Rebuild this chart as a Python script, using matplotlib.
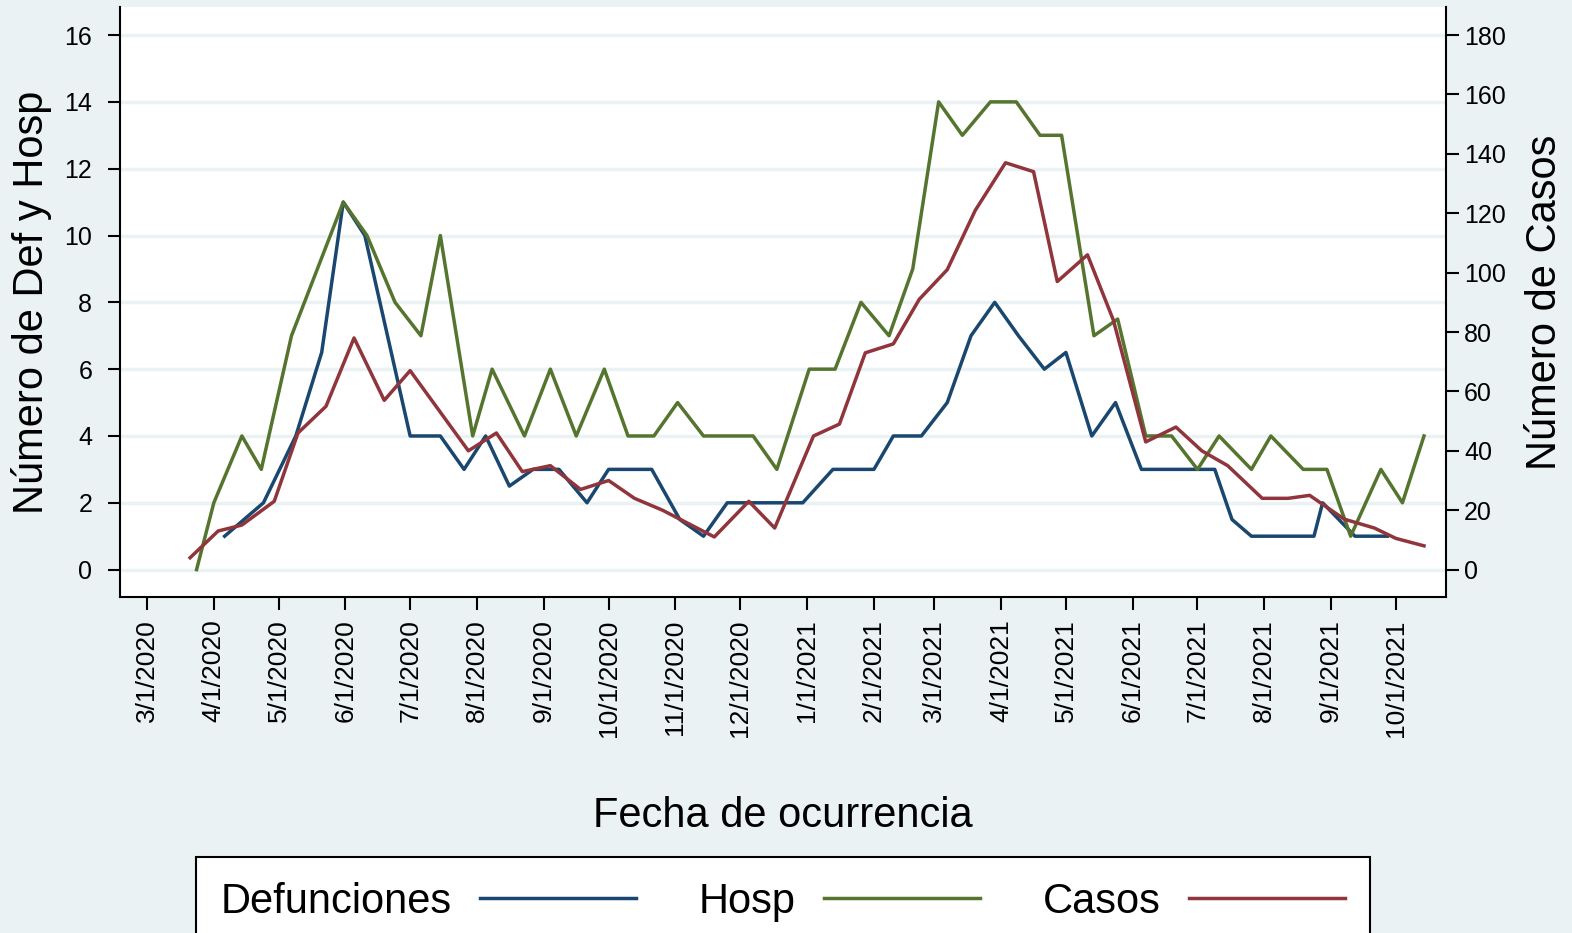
import matplotlib
matplotlib.use("Agg")
import matplotlib.pyplot as plt
import pandas as pd

plt.rcParams['font.family'] = ['Liberation Sans', 'DejaVu Sans']

# Datos
fechas_def = ["2020-04-06", "2020-04-24", "2020-05-09", "2020-05-21", "2020-05-31",
              "2020-06-10", "2020-07-01", "2020-07-15", "2020-07-26", "2020-08-05",
              "2020-08-16", "2020-08-27", "2020-09-08", "2020-09-21", "2020-10-01",
              "2020-10-21", "2020-11-03", "2020-11-14", "2020-11-25", "2020-12-30",
              "2021-01-13", "2021-02-01", "2021-02-10", "2021-02-23", "2021-03-07",
              "2021-03-18", "2021-03-29", "2021-04-09", "2021-04-21", "2021-05-01",
              "2021-05-13", "2021-05-24", "2021-06-05", "2021-07-09", "2021-07-17",
              "2021-07-26", "2021-08-24", "2021-08-28", "2021-09-12", "2021-09-27"]
defunciones = [1, 2, 4, 6.5, 11, 10, 4, 4, 3, 4,
               2.5, 3, 3, 2, 3, 3, 1.5, 1, 2, 2,
               3, 3, 4, 4, 5, 7, 8, 7, 6, 6.5,
               4, 5, 3, 3, 1.5, 1, 1, 2, 1, 1]

fechas_hosp = ["2020-03-24", "2020-04-01", "2020-04-14", "2020-04-23", "2020-05-07",
               "2020-05-31", "2020-06-11", "2020-06-24", "2020-07-06", "2020-07-15",
               "2020-07-30", "2020-08-08", "2020-08-23", "2020-09-04", "2020-09-16",
               "2020-09-29", "2020-10-10", "2020-10-22", "2020-11-02", "2020-11-14",
               "2020-12-07", "2020-12-18", "2021-01-02", "2021-01-14", "2021-01-26",
               "2021-02-08", "2021-02-19", "2021-03-03", "2021-03-14", "2021-03-27",
               "2021-04-08", "2021-04-19", "2021-04-29", "2021-05-14", "2021-05-25",
               "2021-06-07", "2021-06-19", "2021-07-01", "2021-07-11", "2021-07-26",
               "2021-08-04", "2021-08-19", "2021-08-30", "2021-09-10", "2021-09-24",
               "2021-10-04", "2021-10-14"]
hosp = [0, 2, 4, 3, 7, 11, 10, 8, 7, 10,
        4, 6, 4, 6, 4, 6, 4, 4, 5, 4,
        4, 3, 6, 6, 8, 7, 9, 14, 13, 14,
        14, 13, 13, 7, 7.5, 4, 4, 3, 4, 3,
        4, 3, 3, 1, 3, 2, 4]

fechas_casos = ["2020-03-21", "2020-04-03", "2020-04-14", "2020-04-29", "2020-05-10",
                "2020-05-23", "2020-06-05", "2020-06-19", "2020-07-01", "2020-07-28",
                "2020-08-10", "2020-08-22", "2020-09-04", "2020-09-18", "2020-10-01",
                "2020-10-13", "2020-10-26", "2020-11-19", "2020-12-05", "2020-12-17",
                "2021-01-04", "2021-01-16", "2021-01-28", "2021-02-10", "2021-02-22",
                "2021-03-07", "2021-03-20", "2021-04-03", "2021-04-16", "2021-04-27",
                "2021-05-11", "2021-05-23", "2021-06-07", "2021-06-21", "2021-07-03",
                "2021-07-15", "2021-07-31", "2021-08-12", "2021-08-22", "2021-09-07",
                "2021-09-21", "2021-10-01", "2021-10-14"]
casos = [4, 13, 15, 23, 46, 55, 78, 57, 67, 40,
         46, 33, 35, 27, 30, 24, 20, 11, 23, 14,
         45, 49, 73, 76, 91, 101, 121, 137, 134, 97,
         106, 84, 43, 48, 40, 35, 24, 24, 25, 17,
         14, 10.5, 8]

ticks_izq = list(range(0, 17, 2))
ticks_der = list(range(0, 181, 20))
meses = pd.date_range("2020-03-01", "2021-10-01", freq="MS")
etiquetas_meses = [f"{m.month}/{m.day}/{m.year}" for m in meses]

# colores Stata s2color
fondo = "#EAF2F3"
c_def = "#1A476F"
c_hosp = "#55752F"
c_casos = "#90353B"

W, H = 1572, 933
fig = plt.figure(figsize=(W / 100, H / 100), dpi=100, facecolor=fondo)
ax = fig.add_axes([120 / W, 1 - 597 / H, (1446 - 120) / W, (597 - 7) / H])
ax.set_facecolor("white")
ax2 = ax.twinx()

l1, = ax.plot(pd.to_datetime(fechas_def), defunciones, color=c_def, lw=2.5, label="Defunciones")
l2, = ax.plot(pd.to_datetime(fechas_hosp), hosp, color=c_hosp, lw=2.5, label="Hosp")
l3, = ax2.plot(pd.to_datetime(fechas_casos), casos, color=c_casos, lw=2.5, label="Casos")

ymin, ymax = -0.82, 16.84
ax.set_ylim(ymin, ymax)
ax2.set_ylim(ymin * 11.25, ymax * 11.25)
inicio = pd.Timestamp("2020-03-01")
ax.set_xlim(inicio - pd.Timedelta(days=12.5), inicio + pd.Timedelta(days=602.2))

ax.set_yticks(ticks_izq)
ax2.set_yticks(ticks_der)
ax.set_xticks(meses)
ax.set_xticklabels(etiquetas_meses, rotation=90, ha="center", va="top")

ax.yaxis.grid(True, color=fondo, lw=2.5)
ax.set_axisbelow(True)

for a in (ax, ax2):
    a.spines["top"].set_visible(False)
    for s in ("left", "right", "bottom"):
        a.spines[s].set_linewidth(1.5)
ax.spines["right"].set_visible(False)
ax2.spines["left"].set_visible(False)
ax2.spines["bottom"].set_visible(False)

ax.tick_params(axis="y", direction="out", length=9, width=1.5, labelsize=18, pad=11)
ax.tick_params(axis="x", direction="out", length=9, width=1.5, labelsize=19, pad=7)
ax2.tick_params(axis="y", direction="out", length=9, width=1.5, labelsize=18, pad=4)

fig.text(32 / W, 1 - 302 / H, "Número de Def y Hosp", rotation=90,
         ha="center", va="center", fontsize=30)
fig.text(1545 / W, 1 - 302 / H, "Número de Casos", rotation=90,
         ha="center", va="center", fontsize=30)
fig.text(783 / W, 1 - 827 / H, "Fecha de ocurrencia", ha="center", va="baseline", fontsize=30)

leg = fig.legend([l1, l2, l3], ["Defunciones", "Hosp", "Casos"], loc="upper center",
                 bbox_to_anchor=(783 / W, 1 - 857 / H), ncol=3, markerfirst=False,
                 fontsize=30, frameon=True, fancybox=False, edgecolor="black",
                 framealpha=1, handlelength=3.76, handletextpad=0.67,
                 columnspacing=1.5, borderpad=0.6, borderaxespad=0)
leg.get_frame().set_linewidth(1.5)

fig.savefig("out.png", dpi=100, facecolor=fondo)
